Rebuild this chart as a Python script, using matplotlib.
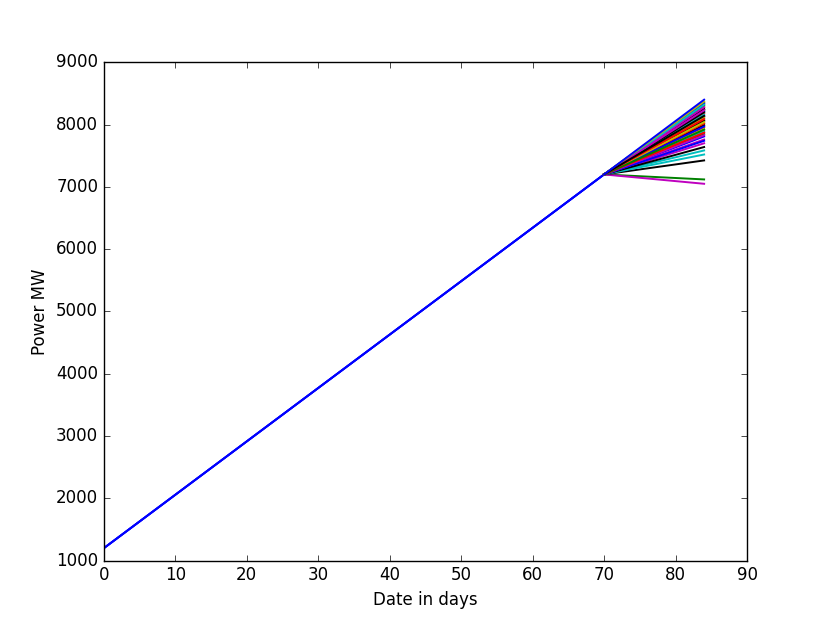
import matplotlib
matplotlib.use('Agg')
import matplotlib.pyplot as plt

# history: a straight ramp up to day 70
history_days = [0, 70]
history_power = [1200, 7200]

# forecast scenarios, day 70 -> day 84, end values
fan_days = [70, 84]
fan_end = [7120, 7880, 7585, 7050, 8010, 7425, 8130, 8240, 7960, 7520,
           7700, 8290, 7640, 7810, 8070, 8180, 7900, 7760, 8330, 7990,
           8210, 7850, 8270, 8100, 8150, 7930, 8060, 7740, 8310, 8020,
           8220, 7830, 8120, 8250, 7970, 8360, 7870, 8160, 8280, 8040,
           8200, 8340, 7920, 8090, 8320, 8230, 8370, 8140, 8400]

plt.style.use('classic')
fig, ax = plt.subplots(figsize=(8.3, 6.23), dpi=100)
fig.patch.set_facecolor('white')

# history takes the first cycle colour (blue); a couple of extra passes
# mimic the overdrawn look of every scenario sharing the same history
ax.plot(history_days, history_power, lw=1.4)
for i in range(2):
    ax.plot(history_days, history_power, color='b', lw=1.4)
for end in fan_end:
    ax.plot(fan_days, [history_power[-1], end], lw=1.4)

ax.set_xlim(0, 90)
ax.set_ylim(1000, 9000)
ax.set_xlabel('Date in days')
ax.set_ylabel('Power MW')

fig.savefig('out.png', dpi=100, facecolor='white')
